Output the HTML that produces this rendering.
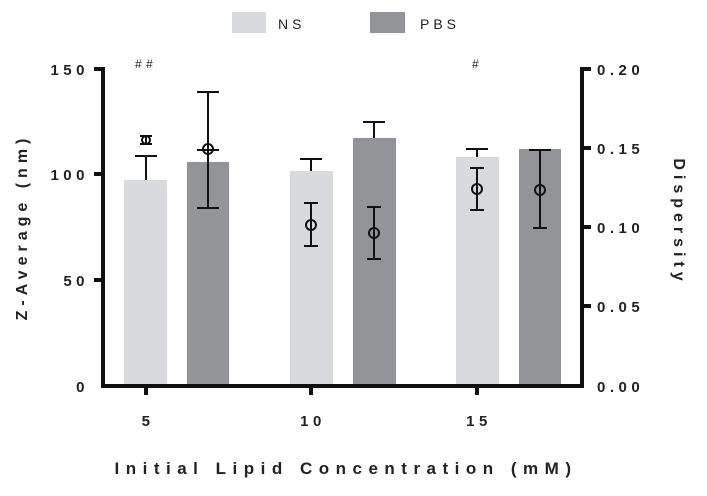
<!DOCTYPE html><html><head><style>body{margin:0;background:#fff}svg{font-family:"Liberation Sans",Arial,sans-serif;font-weight:bold}</style></head><body>
<svg width="707" height="491" viewBox="0 0 707 491">
<rect x="232" y="12" width="34" height="21" fill="#d9dadb"/>
<text x="278" y="29" font-size="14" font-weight="normal" letter-spacing="4" fill="#222">NS</text>
<rect x="370" y="12" width="35" height="21" fill="#939497"/>
<text x="420" y="29" font-size="14" font-weight="normal" letter-spacing="4" fill="#222">PBS</text>
<g fill="#d9dadb"><rect x="124" y="180" width="43" height="206"/><rect x="290" y="171" width="43" height="215"/><rect x="456" y="157" width="43" height="229"/></g>
<g fill="#939497"><rect x="187" y="162" width="42" height="224"/><rect x="353" y="138" width="43" height="248"/><rect x="519" y="149" width="42" height="237"/></g>
<g stroke="#111" stroke-width="2" fill="none">
<path d="M146 180V156M135 156H157"/>
<path d="M208 92V208M197 92H219M197 208H219M197 150H219"/>
<path d="M311 171V159M300 159H322"/>
<path d="M374 138V122M363 122H385"/>
<path d="M477 157V149M466 149H488"/>
<path d="M540 149V150M529 150H551"/>
<path d="M146 136V144M140 136H152M140 144H152"/><circle cx="146" cy="140" r="4"/>
<circle cx="208" cy="149" r="5"/>
<path d="M311 203V246M304 203H318M304 246H318"/><circle cx="311" cy="225" r="5"/>
<path d="M374 207V259M367 207H381M367 259H381"/><circle cx="374" cy="233" r="5"/>
<path d="M477 168V210M470 168H484M470 210H484"/><circle cx="477" cy="189" r="5"/>
<path d="M540 150V228M533 228H547"/><circle cx="540" cy="190" r="5"/>
</g>
<g stroke="#111" stroke-width="4">
<line x1="103" y1="67" x2="103" y2="388"/><line x1="101" y1="386" x2="584" y2="386"/>
<line x1="94" y1="69" x2="103" y2="69"/><line x1="94" y1="174" x2="103" y2="174"/><line x1="94" y1="280" x2="103" y2="280"/>
<line x1="582" y1="67" x2="582" y2="388"/>
<line x1="582" y1="69" x2="591" y2="69"/><line x1="582" y1="148" x2="591" y2="148"/><line x1="582" y1="227" x2="591" y2="227"/><line x1="582" y1="306" x2="591" y2="306"/>
<line x1="146" y1="386" x2="146" y2="395"/><line x1="311" y1="386" x2="311" y2="395"/><line x1="477" y1="386" x2="477" y2="395"/>
</g>
<g font-size="15" fill="#222" letter-spacing="4.5">
<text x="89" y="75" text-anchor="end">150</text><text x="89" y="180" text-anchor="end">100</text><text x="89" y="286" text-anchor="end">50</text><text x="89" y="392" text-anchor="end">0</text>
<text x="597" y="75">0.20</text><text x="597" y="154">0.15</text><text x="597" y="233">0.10</text><text x="597" y="312">0.05</text><text x="597" y="392">0.00</text>
<text x="148" y="426" text-anchor="middle">5</text><text x="313" y="426" text-anchor="middle">10</text><text x="479" y="426" text-anchor="middle">15</text>
<text x="135" y="68" font-size="12" font-weight="normal">##</text><text x="472" y="68" font-size="12" font-weight="normal">#</text>
<text x="346" y="474" text-anchor="middle" font-size="17" letter-spacing="6.5">Initial Lipid Concentration (mM)</text>
<text transform="translate(27,227) rotate(-90)" text-anchor="middle" font-size="16" letter-spacing="5">Z-Average (nm)</text>
<text transform="translate(674,222) rotate(90)" text-anchor="middle" font-size="16" letter-spacing="5">Dispersity</text>
</g>
</svg></body></html>
